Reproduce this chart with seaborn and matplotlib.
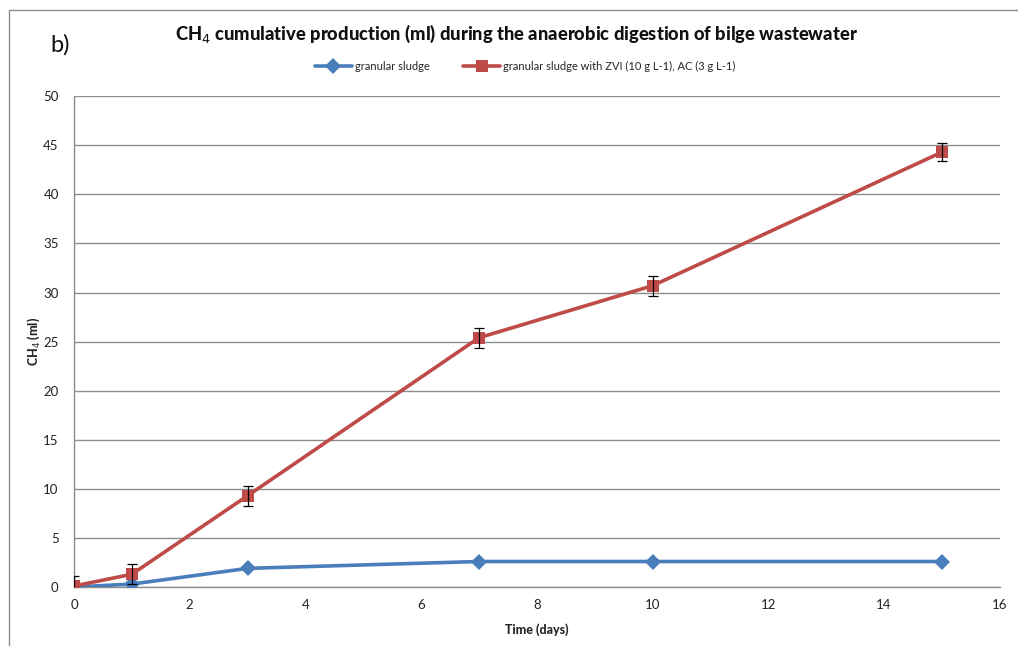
import matplotlib
matplotlib.use("Agg")
import matplotlib.pyplot as plt
import seaborn as sns
import pandas as pd
from matplotlib.patches import Rectangle

# data
days = [0, 1, 3, 7, 10, 15]
granular = [0.0, 0.3, 1.9, 2.6, 2.6, 2.6]
granular_zvi = [0.1, 1.3, 9.3, 25.4, 30.7, 44.3]
zvi_err = [1.0, 1.0, 1.0, 1.0, 1.0, 0.9]

label_a = "granular sludge"
label_b = "granular sludge with ZVI (10 g L-1), AC (3 g L-1)"

df = pd.DataFrame({
    "day": days * 2,
    "ch4": granular + granular_zvi,
    "series": [label_a] * len(days) + [label_b] * len(days),
})

sns.set_style("white")
plt.rcParams["font.family"] = ["Lato", "DejaVu Sans"]

fig = plt.figure(figsize=(10.18, 6.46), dpi=100)
ax = fig.add_axes([0.0727, 0.0913, 0.9093, 0.7597])

# outer chart border
fig.patches.append(Rectangle((9 / 1018, -0.2), 1.2, 1.2 - 10 / 646, transform=fig.transFigure,
                             fill=False, edgecolor="#8c8c8c", linewidth=1.0))

palette = {label_a: "#4A7EBB", label_b: "#BE4B48"}
sns.lineplot(data=df, x="day", y="ch4", hue="series", style="series",
             markers={label_a: "D", label_b: "s"}, dashes=False,
             palette=palette, linewidth=2.6, markersize=8.5,
             markeredgewidth=0, ax=ax, zorder=3)

ax.errorbar(days, granular_zvi, yerr=zvi_err, fmt="none", ecolor="black",
            elinewidth=0.9, capsize=3.5, capthick=0.9, zorder=4)

ax.set_xlim(0, 16)
ax.set_ylim(0, 50)
ax.set_xticks(range(0, 17, 2))
ax.set_yticks(range(0, 51, 5))
ax.yaxis.grid(True, color="#8c8c8c", linewidth=1.0)
ax.xaxis.grid(False)
ax.set_axisbelow(True)
for side in ["top", "right"]:
    ax.spines[side].set_visible(False)
for side in ["left", "bottom"]:
    ax.spines[side].set_color("#8c8c8c")
    ax.spines[side].set_linewidth(1.0)
ax.tick_params(axis="both", which="both", direction="out", length=5, width=1,
               color="#8c8c8c", labelsize=9.5, labelcolor="#222222")
ax.tick_params(axis="y", pad=6)

ax.set_xlabel("Time (days)", fontsize=9, fontweight="black", labelpad=9)
ax.set_ylabel("CH$_4$ (ml)", fontsize=9, fontweight="black", labelpad=1)

fig.text(0.507, 0.948, "CH$_4$ cumulative production (ml) during the anaerobic digestion of bilge wastewater",
         ha="center", va="center", fontsize=13.2, fontweight="black", color="#111111")
fig.text(0.049, 0.93, "b)", ha="left", va="center", fontsize=17, color="#111111")

handles, labels = ax.get_legend_handles_labels()
ax.legend(handles, labels, loc="center", bbox_to_anchor=(0.487, 1.06), ncol=2,
          frameon=False, fontsize=8, handlelength=3.4, columnspacing=3.0,
          handletextpad=0.2)

fig.savefig("out.png", dpi=100)
